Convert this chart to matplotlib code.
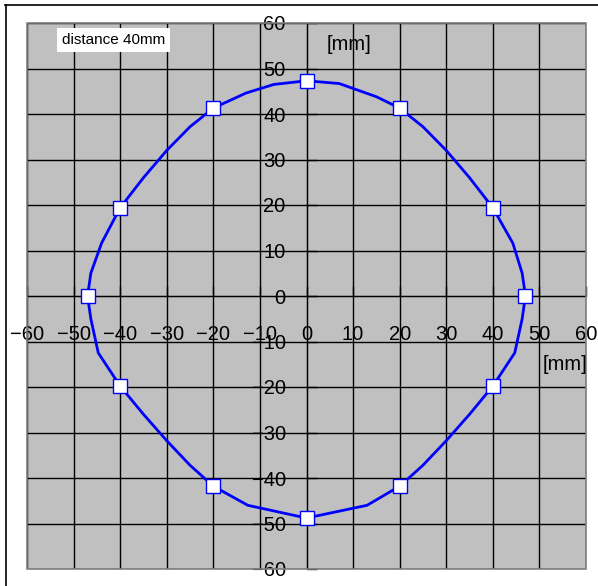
import matplotlib
matplotlib.use("Agg")
import matplotlib.pyplot as plt
from matplotlib.lines import Line2D
from matplotlib.patches import Rectangle

# curve measured around the ring (mm), clockwise from the top
curve_x = [0, 7, 15, 20, 25, 30, 35, 40, 44.3, 46.3, 47, 46.3, 44.7, 40, 35, 30, 25, 20, 13, 0,
           -12.6, -20, -25, -30, -35, -40, -44.7, -46.3, -47, -46.3, -44, -40, -35, -30, -25, -20, -13, -7, 0]
curve_y = [47.3, 46.7, 43.8, 41.3, 37.2, 32.0, 26.0, 19.4, 11.6, 5.0, 0, -5.0, -12.5, -19.8, -26.0, -31.8, -37.2, -41.8, -46.0, -48.8,
           -46.0, -41.8, -37.2, -31.8, -26.0, -19.8, -12.5, -5.0, 0, 5.0, 11.6, 19.4, 26.0, 32.0, 37.2, 41.3, 44.6, 46.5, 47.3]

# marker positions
pts_x = [0, 20, 40, 47, 40, 20, 0, -20, -40, -47, -40, -20]
pts_y = [47.3, 41.3, 19.4, 0, -19.8, -41.8, -48.8, -41.8, -19.8, 0, 19.4, 41.3]

ticks = [-60, -50, -40, -30, -20, -10, 0, 10, 20, 30, 40, 50, 60]

plt.rcParams['font.family'] = ['Liberation Sans', 'DejaVu Sans']
plt.rcParams['axes.unicode_minus'] = True

fig = plt.figure(figsize=(5.98, 5.86), dpi=100)
ax = fig.add_axes([27 / 598, 1 - 569 / 586, 559 / 598, 546 / 586])
ax.set_facecolor('#C0C0C0')
ax.set_xlim(-60, 60)
ax.set_ylim(-60, 60)
ax.set_xticks(ticks)
ax.set_yticks(ticks)
ax.grid(True, color='black', linewidth=1)
ax.set_axisbelow(True)

for s in ['top', 'right']:
    ax.spines[s].set_visible(False)
ax.spines['left'].set_position(('data', 0))
ax.spines['bottom'].set_position(('data', 0))
ax.spines['left'].set_color('black')
ax.spines['bottom'].set_color('black')

ax.add_patch(Rectangle((0, 0), 1, 1, transform=ax.transAxes, fill=False,
                       edgecolor='#808080', linewidth=1.2, zorder=5, clip_on=False))

ax.tick_params(axis='y', direction='in', length=7, width=1, pad=15, labelsize=14.5)
ax.tick_params(axis='x', direction='in', length=7, width=1, pad=21, labelsize=14.5)

ax.plot(curve_x, curve_y, color='#0000FF', linewidth=2, zorder=3)
ax.plot(pts_x, pts_y, linestyle='none', marker='s', markersize=9.5,
        markerfacecolor='white', markeredgecolor='#0000FF', markeredgewidth=1, zorder=4)

fig.text(349 / 598, 1 - 44 / 586, '[mm]', fontsize=14.5, ha='center', va='center')
fig.text(587 / 598, 1 - 364 / 586, '[mm]', fontsize=14.5, ha='right', va='center')
fig.text(62 / 598, 1 - 40 / 586, 'distance 40mm', fontsize=11, ha='left', va='center',
         bbox=dict(boxstyle='square,pad=0.3', facecolor='white', edgecolor='none'))

# outer chart frame (top and left edges visible)
fig.add_artist(Line2D([5 / 598, 1], [1 - 4.5 / 586, 1 - 4.5 / 586], color='black', linewidth=1.2))
fig.add_artist(Line2D([5.5 / 598, 5.5 / 598], [0, 1 - 4.5 / 586], color='black', linewidth=1.2))

fig.savefig('out.png', dpi=100)
